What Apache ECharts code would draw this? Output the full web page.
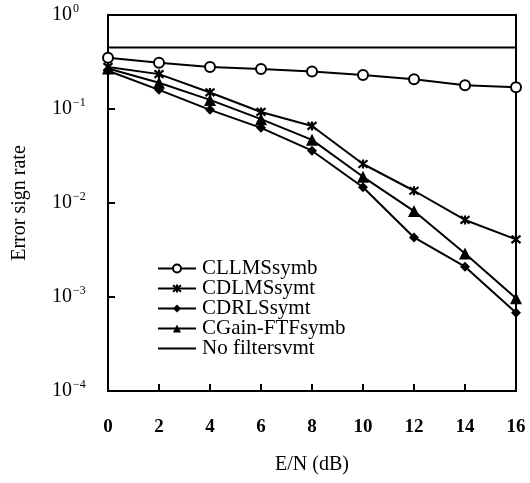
<!DOCTYPE html>
<html>
<head>
<meta charset="utf-8">
<script src="https://cdn.jsdelivr.net/npm/echarts@6/dist/echarts.min.js"></script>
<style>html,body{margin:0;padding:0;background:#fff;}#c{width:530px;height:483px;}</style>
</head>
<body>
<div id="c"></div>
<script>
var xValues = [0, 2, 4, 6, 8, 10, 12, 14, 16];
var cllms = [0.35, 0.31, 0.28, 0.266, 0.25, 0.23, 0.207, 0.179, 0.17];
var cdlms = [0.28, 0.235, 0.15, 0.093, 0.066, 0.026, 0.0135, 0.0066, 0.0041];
var cdrls = [0.255, 0.16, 0.098, 0.063, 0.036, 0.0147, 0.0043, 0.0021, 0.00068];
var cgain = [0.27, 0.19, 0.125, 0.078, 0.047, 0.019, 0.0082, 0.0029, 0.00097];
var noFilterX = [0, 16];
var noFilter = [0.45, 0.45];
var seriesNames = ['CLLMSsymb', 'CDLMSsymt', 'CDRLSsymt', 'CGain-FTFsymb', 'No filtersvmt'];

function pairs(xs, ys) { return xs.map(function (x, i) { return [x, ys[i]]; }); }

var FONT = 'Liberation Serif';
var chart = echarts.init(document.getElementById('c'), null, {renderer: 'canvas'});
var starPath = 'path://M0,0L10,10M10,0L0,10M5,-1L5,11';

function mkSeries(name, data, symbol, size, itemStyle) {
  return {
    type: 'line', name: name, data: data, color: '#000',
    symbol: symbol, symbolSize: size, showSymbol: symbol !== 'none',
    lineStyle: {color: '#000', width: 2, type: 'solid'},
    itemStyle: itemStyle,
    emphasis: {disabled: true},
    animation: false
  };
}

chart.setOption({
  backgroundColor: '#fff',
  animation: false,
  grid: {left: 108, right: 14, top: 15, bottom: 92, show: true, borderColor: '#000', borderWidth: 2, backgroundColor: 'transparent'},
  legend: {
    left: 152, top: 253, orient: 'vertical',
    itemWidth: 38, itemHeight: 10, itemGap: -1,
    data: [
      seriesNames[0], seriesNames[1], seriesNames[2], seriesNames[3],
      {name: seriesNames[4], itemStyle: {opacity: 0}}
    ],
    textStyle: {fontFamily: FONT, fontSize: 21, color: '#000', lineHeight: 20, padding: [0, 0, 0, 1]}
  },
  xAxis: {
    type: 'value', min: 0, max: 16, interval: 2,
    name: 'E/N (dB)', nameLocation: 'middle', nameGap: 64,
    nameTextStyle: {fontFamily: FONT, fontSize: 20, color: '#000'},
    axisLine: {show: true, lineStyle: {color: '#000', width: 2}},
    axisTick: {show: true, inside: true, length: 7, lineStyle: {color: '#000', width: 2}},
    axisLabel: {margin: 27, fontFamily: FONT, fontSize: 19, fontWeight: 'bold', color: '#000'},
    splitLine: {show: false}
  },
  yAxis: {
    type: 'log', logBase: 10, min: 0.0001, max: 1,
    name: 'Error sign rate', nameLocation: 'middle', nameGap: 78, nameRotate: 90,
    nameTextStyle: {fontFamily: FONT, fontSize: 20, color: '#000'},
    axisLine: {show: true, lineStyle: {color: '#000', width: 2}},
    axisTick: {show: true, inside: true, length: 7, lineStyle: {color: '#000', width: 2}},
    minorTick: {show: false},
    splitLine: {show: false},
    axisLabel: {
      margin: 56, align: 'left', color: '#000',
      formatter: function (v) {
        var e = Math.round(Math.log10(v));
        return '{b|10}{s|' + (e === 0 ? '0' : '\u2212' + (-e)) + '}';
      },
      rich: {
        b: {fontFamily: FONT, fontSize: 20, color: '#000'},
        s: {fontFamily: FONT, fontSize: 12, color: '#000', padding: [0, 0, 13, 1]}
      }
    }
  },
  series: [
    mkSeries(seriesNames[0], pairs(xValues, cllms), 'emptyCircle', 10, {color: '#000', borderColor: '#000', borderWidth: 1.8}),
    mkSeries(seriesNames[1], pairs(xValues, cdlms), starPath, 9, {color: '#000', borderColor: '#000', borderWidth: 2.2}),
    mkSeries(seriesNames[2], pairs(xValues, cdrls), 'diamond', 10, {color: '#000', borderWidth: 0}),
    mkSeries(seriesNames[3], pairs(xValues, cgain), 'triangle', 12, {color: '#000', borderWidth: 0}),
    mkSeries(seriesNames[4], pairs(noFilterX, noFilter), 'none', 0, {color: '#000'})
  ]
});
</script>
</body>
</html>
